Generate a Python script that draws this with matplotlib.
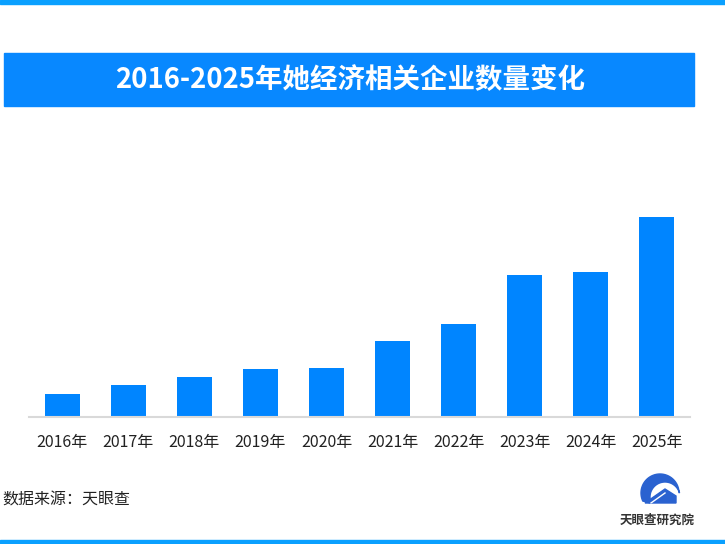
import matplotlib

matplotlib.use("Agg")
import matplotlib.pyplot as plt
from matplotlib.patches import Rectangle, Polygon
import numpy as np

plt.rcParams["font.family"] = ["Noto Sans CJK SC", "DejaVu Sans"]

# bar heights (no y axis shown, relative units)
years = ["2016年", "2017年", "2018年", "2019年", "2020年",
         "2021年", "2022年", "2023年", "2024年", "2025年"]
counts = [23, 32, 40, 48, 49, 76, 93, 142, 145, 200]

title = "2016-2025年她经济相关企业数量变化"
source = "数据来源：天眼查"
brand = "天眼查研究院"

W, H = 725, 544
BAR = "#0085FF"
BORDER = "#0AA0FF"
LOGO = "#2A62D0"

fig = plt.figure(figsize=(W / 100, H / 100), dpi=100)

# pixel-coordinate layer for the frame, title box and logo
bg = fig.add_axes([0, 0, 1, 1])
bg.set_xlim(0, W)
bg.set_ylim(H, 0)
bg.axis("off")
bg.add_patch(Rectangle((0, 0), W, 4, color=BORDER))
bg.add_patch(Rectangle((0, 540), W, 4, color=BORDER))
bg.add_patch(Rectangle((4, 53), 690, 53, color="#0888FF"))
bg.text(350, 80, title, color="white", fontsize=19.8, fontweight="bold",
        ha="center", va="center")
bg.text(2, 500, source, color="#222222", fontsize=11.5, ha="left", va="center")

# rough logo: swoosh over a roof
t = np.radians(np.linspace(205, 15, 60))
outer = np.c_[660 + 19 * np.cos(t), 493 - 19 * np.sin(t)]
t2 = t[::-1]
inner = np.c_[665 + 15 * np.cos(t2), 497 - 15 * np.sin(t2)]
bg.add_patch(Polygon(np.vstack([outer, inner]), closed=True, color=LOGO))
bg.add_patch(Polygon([(645, 503), (665, 489), (676, 496), (676, 503)],
                     closed=True, color=LOGO))
bg.plot([651, 665], [503, 493], color="white", lw=1)
bg.text(657, 520, brand, color="#333333", fontsize=9, fontweight="bold",
        ha="center", va="center")

ax = fig.add_axes([29 / W, (H - 417) / H, 661 / W, 210 / H])
x = np.arange(len(years))
ax.bar(x, counts, width=0.53, color=BAR)
ax.set_xlim(-0.5, len(years) - 0.5)
ax.set_ylim(0, 210)
ax.set_xticks(x)
ax.set_xticklabels(years, fontsize=11.5, color="#222222")
ax.tick_params(axis="x", length=0, pad=12)
ax.set_yticks([])
for side in ("top", "right", "left"):
    ax.spines[side].set_visible(False)
ax.spines["bottom"].set_color("#D9D9D9")
ax.spines["bottom"].set_linewidth(1.5)
ax.patch.set_alpha(0)

fig.savefig("out.png", dpi=100)
